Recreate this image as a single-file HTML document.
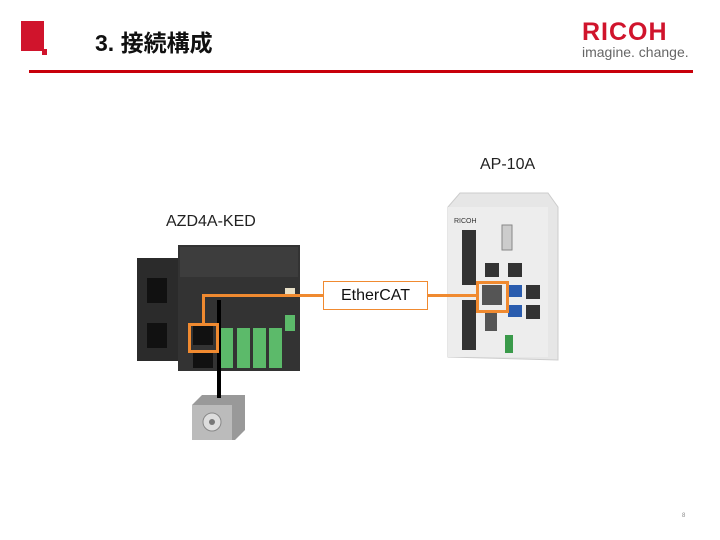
<!DOCTYPE html>
<html><head><meta charset="utf-8"><style>
body{margin:0;width:720px;height:540px;background:#fff;position:relative;overflow:hidden;font-family:"Liberation Sans","Noto Sans CJK JP",sans-serif}
.a{position:absolute}
</style></head><body>
<div class="a" style="left:21px;top:21px;width:23px;height:30px;background:#d0142c"></div>
<div class="a" style="left:42px;top:49px;width:5px;height:6px;background:#d0142c"></div>
<div class="a" style="left:95px;top:24px;font-size:23px;font-weight:bold;color:#111">3.&nbsp;接続構成</div>
<div class="a" style="left:582px;top:18px;font-size:25px;font-weight:bold;color:#d0142c;letter-spacing:1px">RICOH</div>
<div class="a" style="left:582px;top:44px;font-size:14px;color:#666">imagine. change.</div>
<div class="a" style="left:29px;top:70px;width:664px;height:3px;background:#c8000a"></div>

<div class="a" style="left:480px;top:156px;font-size:16px;color:#222">AP-10A</div>
<div class="a" style="left:166px;top:213px;font-size:16px;color:#222">AZD4A-KED</div>

<svg class="a" style="left:440px;top:185px" width="125" height="180">
<polygon points="8,22 20,8 108,8 118,22 118,175 8,172" fill="#e6e6e6" stroke="#ccc"/>
<rect x="8" y="22" width="100" height="150" fill="#ededed"/>
<rect x="22" y="45" width="14" height="55" fill="#333"/>
<rect x="22" y="115" width="14" height="50" fill="#333"/>
<rect x="62" y="40" width="10" height="25" fill="#ccc" stroke="#888"/>
<rect x="45" y="78" width="14" height="14" fill="#333"/>
<rect x="68" y="78" width="14" height="14" fill="#333"/>
<rect x="42" y="100" width="20" height="20" fill="#555"/>
<rect x="68" y="100" width="14" height="12" fill="#2a5cae"/>
<rect x="86" y="100" width="14" height="14" fill="#333"/>
<rect x="68" y="120" width="14" height="12" fill="#2a5cae"/>
<rect x="86" y="120" width="14" height="14" fill="#333"/>
<rect x="45" y="128" width="12" height="18" fill="#555"/>
<rect x="65" y="150" width="8" height="18" fill="#3a9a4a"/>
<text x="14" y="38" font-size="7" fill="#333" font-family="Liberation Sans">RICOH</text>
</svg>

<svg class="a" style="left:135px;top:243px" width="170" height="132">
<rect x="2" y="15" width="42" height="103" fill="#2b2b2b"/>
<rect x="43" y="2" width="122" height="126" fill="#333"/>
<rect x="45" y="4" width="118" height="30" fill="#3d3d3d"/>
<rect x="12" y="35" width="20" height="25" fill="#111"/>
<rect x="12" y="80" width="20" height="25" fill="#111"/>
<rect x="85" y="85" width="13" height="40" fill="#5cba6a"/>
<rect x="102" y="85" width="13" height="40" fill="#5cba6a"/>
<rect x="118" y="85" width="13" height="40" fill="#5cba6a"/>
<rect x="134" y="85" width="13" height="40" fill="#5cba6a"/>
<rect x="150" y="72" width="10" height="16" fill="#5cba6a"/>
<rect x="58" y="82" width="20" height="20" fill="#111"/>
<rect x="58" y="107" width="20" height="18" fill="#111"/>
<rect x="150" y="45" width="10" height="8" fill="#e8e0c8"/>
</svg>

<svg class="a" style="left:190px;top:390px" width="60" height="52">
<polygon points="2,15 12,5 55,5 55,40 45,50 2,50" fill="#999"/>
<rect x="2" y="15" width="40" height="35" fill="#bbb"/>
<circle cx="22" cy="32" r="9" fill="#ddd" stroke="#888"/>
<circle cx="22" cy="32" r="3" fill="#777"/>
</svg>

<div class="a" style="left:217px;top:300px;width:4px;height:98px;background:#000"></div>

<div class="a" style="left:188px;top:323px;width:25px;height:24px;border:3px solid #f08a30"></div>
<div class="a" style="left:202px;top:294px;width:3px;height:30px;background:#f08a30"></div>
<div class="a" style="left:202px;top:294px;width:122px;height:3px;background:#f08a30"></div>
<div class="a" style="left:428px;top:294px;width:49px;height:3px;background:#f08a30"></div>
<div class="a" style="left:476px;top:281px;width:27px;height:26px;border:3px solid #f08a30"></div>
<div class="a" style="left:323px;top:281px;width:103px;height:27px;border:1px solid #f08a30;background:#fff;font-size:16px;color:#111;text-align:center;line-height:27px">EtherCAT</div>

<div class="a" style="left:682px;top:513px;font-size:6px;color:#888">8</div>
</body></html>
